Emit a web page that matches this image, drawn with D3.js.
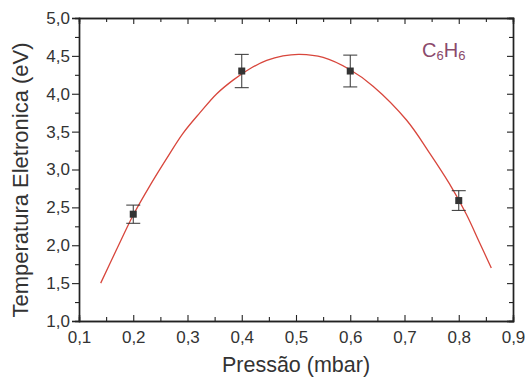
<!DOCTYPE html>
<html lang="en">
  <head>
    <meta charset="utf-8" />
    <title>Temperatura Eletronica vs Pressão</title>
    <style>
      body {
        margin: 0;
        background: #fff;
      }
      svg text {
        font-family: 'Liberation Sans', Arial, sans-serif;
        fill: #333;
      }
    </style>
  </head>
  <body>
    <div id="chart"></div>
    <script src="https://cdn.jsdelivr.net/npm/d3@7"></script>
    <script type="text/javascript">
      // Measured points with error bars
      const pressure = [0.2, 0.4, 0.6, 0.8]
      const temperature = [2.41, 4.3, 4.3, 2.59]
      const errors = [0.12, 0.22, 0.21, 0.13]

      // Fitted curve
      const fitX = [0.14, 0.169, 0.2, 0.231, 0.262, 0.292, 0.323, 0.354, 0.384, 0.415, 0.446, 0.476, 0.507, 0.55, 0.599, 0.642, 0.704, 0.746, 0.783, 0.814, 0.838, 0.86]
      const fitY = [1.5, 1.94, 2.4, 2.79, 3.15, 3.48, 3.75, 4.0, 4.18, 4.33, 4.44, 4.5, 4.52, 4.48, 4.32, 4.1, 3.65, 3.22, 2.81, 2.41, 2.04, 1.7]

      const xTicks = [0.1, 0.2, 0.3, 0.4, 0.5, 0.6, 0.7, 0.8, 0.9]
      const yTicks = [1.0, 1.5, 2.0, 2.5, 3.0, 3.5, 4.0, 4.5, 5.0]

      const W = 525,
        H = 378
      const margin = { top: 18, right: 12, bottom: 57, left: 79 }
      const width = W - margin.left - margin.right,
        height = H - margin.top - margin.bottom

      const svg = d3.select('#chart').append('svg').attr('width', W).attr('height', H)
      const g = svg.append('g').attr('transform', 'translate(' + margin.left + ',' + margin.top + ')')

      const x = d3.scaleLinear().domain([0.1, 0.9]).range([0, width])
      const y = d3.scaleLinear().domain([1.0, 5.0]).range([height, 0])

      const comma = (d) => d3.format('.1f')(d).replace('.', ',')

      // minor ticks sit halfway between the majors
      const xMinor = xTicks.slice(0, -1).map((d) => d + 0.05)
      const yMinor = yTicks.slice(0, -1).map((d) => d + 0.25)

      const axisColor = '#222'

      // Bottom axis: labels plus inward ticks
      const bottomAxis = g.append('g').attr('transform', 'translate(0,' + height + ')')
      bottomAxis.call(d3.axisBottom(x).tickValues(xTicks).tickSize(-6).tickPadding(10).tickFormat(comma))
      bottomAxis.append('g').call(d3.axisBottom(x).tickValues(xMinor).tickSize(-4).tickFormat(''))

      // Left axis: outward ticks
      const leftAxis = g.append('g')
      leftAxis.call(d3.axisLeft(y).tickValues(yTicks).tickSize(7).tickPadding(2).tickFormat(comma))
      leftAxis.append('g').call(d3.axisLeft(y).tickValues(yMinor).tickSize(4).tickFormat(''))

      // Top and right frame axes, ticks pointing in
      const topAxis = g.append('g')
      topAxis.call(d3.axisTop(x).tickValues(xTicks).tickSize(-6).tickFormat(''))
      topAxis.append('g').call(d3.axisTop(x).tickValues(xMinor).tickSize(-4).tickFormat(''))

      const rightAxis = g.append('g').attr('transform', 'translate(' + width + ',0)')
      rightAxis.call(d3.axisRight(y).tickValues(yTicks).tickSize(-6).tickFormat(''))
      rightAxis.append('g').call(d3.axisRight(y).tickValues(yMinor).tickSize(-4).tickFormat(''))

      g.selectAll('.domain').attr('stroke', axisColor).attr('stroke-width', 1.4)
      g.selectAll('.tick line').attr('stroke', axisColor).attr('stroke-width', 1.1)
      g.selectAll('.tick text').attr('font-size', 17).attr('fill', '#333')

      // Fitted curve
      const fit = fitX.map((d, i) => [d, fitY[i]])
      g.append('path')
        .datum(fit)
        .attr('fill', 'none')
        .attr('stroke', '#d8463c')
        .attr('stroke-width', 1.3)
        .attr(
          'd',
          d3
            .line()
            .x((d) => x(d[0]))
            .y((d) => y(d[1]))
            .curve(d3.curveCatmullRom)
        )

      // Error bars and square markers
      const pts = pressure.map((d, i) => ({ p: d, t: temperature[i], e: errors[i] }))
      const bars = g.selectAll('.err').data(pts).enter().append('g').attr('class', 'err')
      bars
        .append('line')
        .attr('x1', (d) => x(d.p))
        .attr('x2', (d) => x(d.p))
        .attr('y1', (d) => y(d.t + d.e))
        .attr('y2', (d) => y(d.t - d.e))
      bars
        .append('line')
        .attr('x1', (d) => x(d.p) - 7)
        .attr('x2', (d) => x(d.p) + 7)
        .attr('y1', (d) => y(d.t + d.e))
        .attr('y2', (d) => y(d.t + d.e))
      bars
        .append('line')
        .attr('x1', (d) => x(d.p) - 7)
        .attr('x2', (d) => x(d.p) + 7)
        .attr('y1', (d) => y(d.t - d.e))
        .attr('y2', (d) => y(d.t - d.e))
      bars.selectAll('line').attr('stroke', '#333').attr('stroke-width', 1)

      g.selectAll('.pt')
        .data(pts)
        .enter()
        .append('rect')
        .attr('class', 'pt')
        .attr('x', (d) => x(d.p) - 3.5)
        .attr('y', (d) => y(d.t) - 3.5)
        .attr('width', 7)
        .attr('height', 7)
        .attr('fill', '#333')

      // Axis titles
      svg
        .append('text')
        .attr('x', 296)
        .attr('y', 372)
        .attr('text-anchor', 'middle')
        .attr('font-size', 21.5)
        .text('Pressão (mbar)')

      svg
        .append('text')
        .attr('transform', 'translate(28,180) rotate(-90)')
        .attr('text-anchor', 'middle')
        .attr('font-size', 22)
        .text('Temperatura Eletronica (eV)')

      // Species label
      const lab = svg.append('text').attr('x', 422).attr('y', 57).attr('font-size', 20).style('fill', '#8b4a6b')
      lab.append('tspan').text('C')
      lab.append('tspan').attr('font-size', 13).attr('dy', 3).text('6')
      lab.append('tspan').attr('dy', -3).text('H')
      lab.append('tspan').attr('font-size', 13).attr('dy', 3).text('6')
    </script>
  </body>
</html>
